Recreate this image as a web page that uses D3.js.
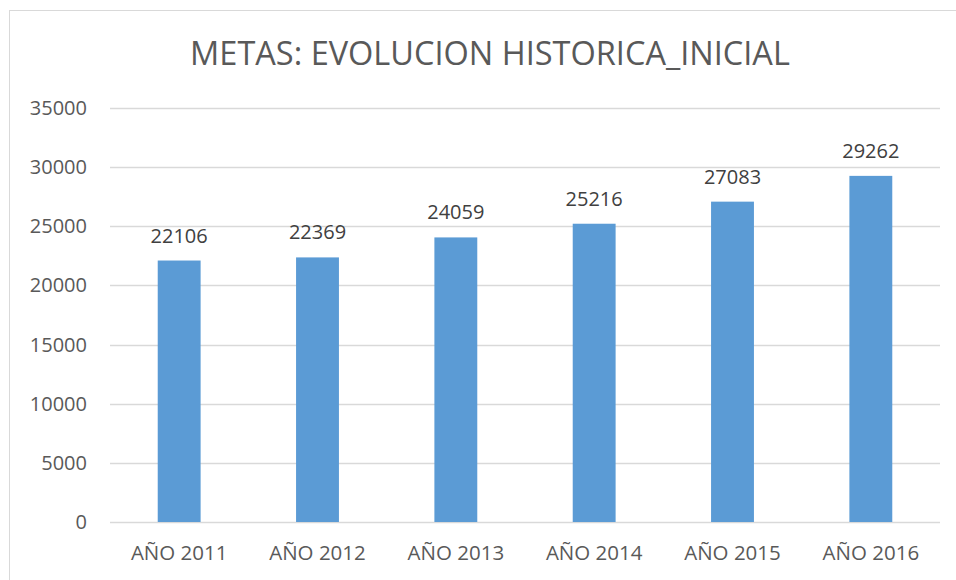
<!DOCTYPE html>
<html>
<head>
<meta charset="utf-8">
<script src="https://cdn.jsdelivr.net/npm/d3@7"></script>
<style>
  body { margin: 0; background: #fff; }
  svg { display: block; font-family: "Open Sans", sans-serif; }
</style>
</head>
<body>
<svg id="chart" width="956" height="580"></svg>
<script>
// data
var years = ["AÑO 2011", "AÑO 2012", "AÑO 2013", "AÑO 2014", "AÑO 2015", "AÑO 2016"];
var metas = [22106, 22369, 24059, 25216, 27083, 29262];
var yTicks = [0, 5000, 10000, 15000, 20000, 25000, 30000, 35000];

var svg = d3.select("#chart");

// chart frame (right side runs off the page)
svg.append("rect")
  .attr("x", 9.5).attr("y", 10.5)
  .attr("width", 1000).attr("height", 600)
  .attr("fill", "#fff")
  .attr("stroke", "#d9d9d9");

var plotL = 110, plotR = 940, plotT = 108, plotB = 522;

var x = d3.scaleBand().domain(years).range([plotL, plotR]).padding(0);
var y = d3.scaleLinear().domain([0, 35000]).range([plotB, plotT]);

// gridlines
svg.append("g").selectAll("line")
  .data(yTicks)
  .enter().append("line")
  .attr("x1", plotL).attr("x2", plotR)
  .attr("y1", function(d) { return Math.round(y(d)) + 0.5; })
  .attr("y2", function(d) { return Math.round(y(d)) + 0.5; })
  .attr("stroke", "#d9d9d9")
  .attr("stroke-width", 1.3);

// y tick labels
svg.append("g").selectAll("text")
  .data(yTicks)
  .enter().append("text")
  .attr("x", 87)
  .attr("y", function(d) { return y(d) + 7; })
  .attr("text-anchor", "end")
  .attr("fill", "#595959")
  .style("font-size", "20px")
  .text(function(d) { return d; });

// bars
var barW = x.bandwidth() * 0.31;
svg.append("g").selectAll("rect")
  .data(metas)
  .enter().append("rect")
  .attr("x", function(d, i) { return x(years[i]) + x.bandwidth() / 2 - barW / 2; })
  .attr("y", function(d) { return y(d); })
  .attr("width", barW)
  .attr("height", function(d) { return plotB - y(d); })
  .attr("fill", "#5b9bd5");

// value labels
svg.append("g").selectAll("text")
  .data(metas)
  .enter().append("text")
  .attr("x", function(d, i) { return x(years[i]) + x.bandwidth() / 2; })
  .attr("y", function(d) { return y(d) - 18; })
  .attr("text-anchor", "middle")
  .attr("fill", "#404040")
  .style("font-size", "20px")
  .text(function(d) { return d; });

// x labels
svg.append("g").selectAll("text")
  .data(years)
  .enter().append("text")
  .attr("x", function(d) { return x(d) + x.bandwidth() / 2; })
  .attr("y", 560)
  .attr("text-anchor", "middle")
  .attr("fill", "#595959")
  .style("font-size", "20.5px")
  .text(function(d) { return d; });

// title
svg.append("text")
  .attr("x", 490)
  .attr("y", 65)
  .attr("text-anchor", "middle")
  .attr("fill", "#595959")
  .style("font-size", "32.5px")
  .text("METAS: EVOLUCION HISTORICA_INICIAL");
</script>
</body>
</html>
